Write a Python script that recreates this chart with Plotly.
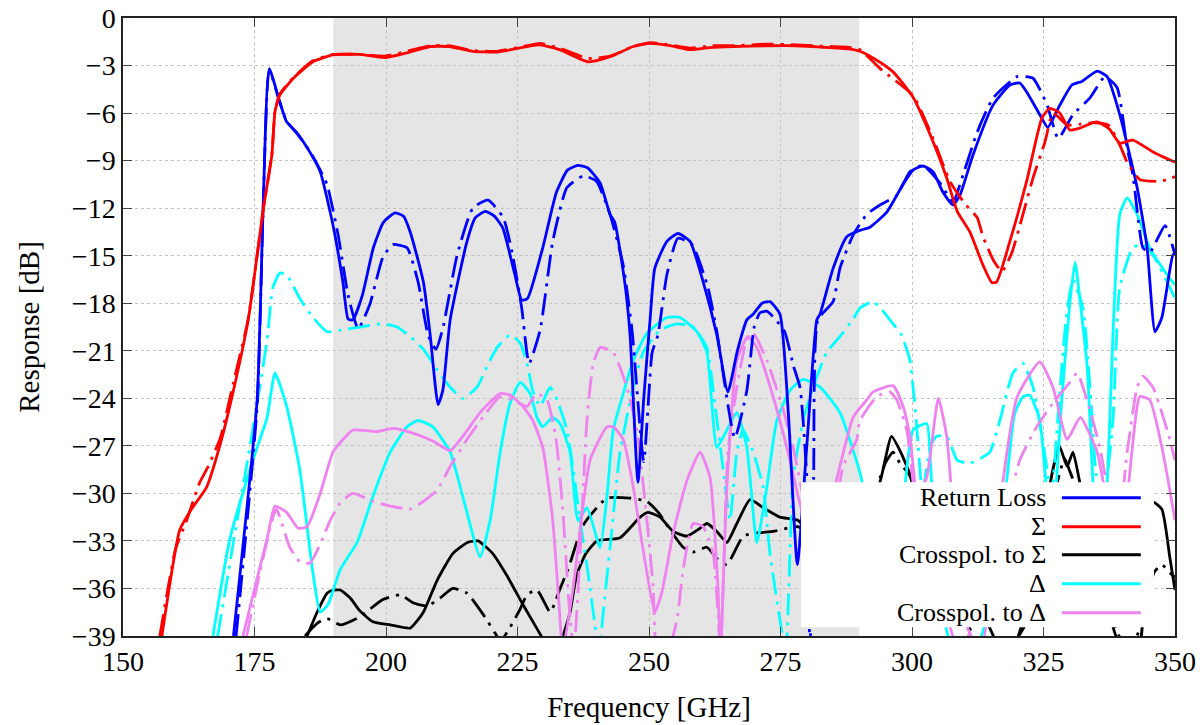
import plotly.graph_objects as go

# ---------------- data (frequency in GHz, response in dB) ----------------
rl_sim_f = [171.0, 175.5, 176.6, 177.8, 179.8, 181.1, 183.1, 185.5, 187.5, 190.0, 191.8, 192.8, 193.7, 195.5, 197.6, 199.5, 201.7, 203.3, 204.6, 207.1, 208.4, 209.9, 210.8, 212.2, 215.4, 217.0, 218.9, 220.6, 222.2, 224.5, 225.8, 226.9, 229.8, 232.4, 234.5, 236.5, 238.3, 240.7, 242.6, 243.5, 245.4, 246.4, 247.9, 249.0, 250.2, 251.1, 253.4, 255.5, 257.8, 260.3, 262.9, 265.0, 266.8, 268.6, 269.8, 271.5, 273.0, 274.9, 276.5, 278.2, 280.0, 281.9, 282.5, 285.0, 287.6, 290.1, 292.0, 295.2, 298.3, 300.2, 302.1, 304.0, 305.9, 307.8, 309.1, 311.6, 315.4, 318.6, 320.5, 321.8, 324.3, 325.8, 328.1, 330.4, 332.3, 335.2, 337.1, 339.5, 342.8, 344.7, 346.2, 347.5, 349.6, 350.0]
rl_sim_db = [-39, -24.1, -12.4, -3.2, -5.3, -6.55, -7.26, -8.45, -9.7, -13.2, -16.65, -19.0, -19.05, -17.5, -14.5, -12.9, -12.3, -12.5, -13.5, -16.65, -20.0, -24.4, -23.5, -19.05, -14.1, -12.6, -12.2, -12.5, -13.25, -16.2, -17.8, -17.7, -14.5, -11.0, -9.6, -9.3, -9.45, -10.4, -12.4, -12.9, -16.7, -20.0, -29.3, -24.0, -19.05, -15.8, -14.1, -13.6, -14.1, -16.65, -20.0, -23.6, -21.0, -19.05, -18.7, -18.0, -17.9, -18.7, -25.0, -34.5, -27.0, -19.05, -18.7, -15.8, -13.8, -13.4, -13.2, -12.25, -10.5, -9.6, -9.34, -9.7, -11.0, -11.8, -11.2, -8.64, -5.5, -4.23, -4.1, -4.67, -6.1, -6.9, -5.5, -4.23, -4.0, -3.35, -3.7, -6.1, -10.7, -14.5, -19.8, -18.9, -14.95, -14.9]

rl_meas_f = [171.5, 175.5, 176.6, 177.8, 179.8, 181.1, 183.1, 185.5, 187.5, 188.8, 190.9, 192.8, 194.7, 196.9, 199.4, 201.3, 204.0, 206.1, 208.0, 209.5, 210.8, 213.5, 216.5, 219.4, 222.3, 224.1, 225.8, 227.2, 229.3, 231.7, 234.4, 237.5, 240.0, 242.6, 245.1, 246.8, 249.0, 250.6, 251.7, 253.4, 255.5, 258.2, 261.2, 262.9, 266.3, 268.6, 270.0, 271.1, 272.4, 274.0, 275.8, 277.5, 278.7, 280.0, 280.6, 281.3, 282.1, 285.0, 286.3, 288.8, 291.4, 293.9, 297.1, 299.6, 302.1, 305.3, 307.8, 309.7, 312.4, 315.4, 320.0, 323.0, 325.7, 327.8, 330.6, 333.8, 336.7, 339.0, 340.9, 342.0, 343.9, 345.2, 348.1, 350.0]
rl_meas_db = [-39, -24.5, -12.6, -3.3, -5.3, -6.5, -7.3, -8.4, -9.6, -10.5, -13.7, -17.5, -19.6, -18.1, -15.1, -14.3, -14.5, -16.65, -20.0, -20.9, -19.6, -15.0, -12.0, -11.5, -12.6, -15.0, -18.3, -21.8, -19.7, -14.1, -10.7, -9.97, -10.3, -12.4, -15.6, -19.8, -28.0, -21.1, -20.0, -16.2, -13.9, -14.3, -17.0, -19.8, -26.5, -23.5, -19.5, -18.6, -18.5, -19.0, -19.8, -22.0, -23.3, -29.0, -40.0, -29.0, -19.05, -17.9, -15.8, -13.7, -12.4, -11.8, -11.2, -9.7, -9.3, -10.4, -11.6, -9.9, -7.2, -5.06, -3.7, -3.8, -5.5, -7.6, -6.1, -5.06, -3.7, -4.4, -8.2, -9.9, -14.5, -14.8, -13.1, -14.95]

sum_sim_f = [157.4, 160.8, 163.0, 165.9, 168.4, 171.0, 173.8, 176.7, 178.3, 178.9, 179.8, 182.4, 186.1, 189.9, 191.3, 195.0, 199.8, 204.0, 208.4, 212.0, 216.5, 221.1, 226.8, 229.3, 233.0, 238.4, 242.6, 247.0, 250.2, 254.0, 257.8, 262.0, 266.0, 272.4, 278.0, 284.4, 288.0, 290.1, 293.0, 296.4, 300.2, 304.0, 306.6, 308.6, 311.0, 313.5, 315.2, 316.1, 318.6, 321.8, 324.7, 326.2, 328.1, 330.0, 331.9, 335.1, 337.5, 339.5, 342.0, 345.8, 350.0]
sum_sim_db = [-39, -32.3, -31.0, -29.6, -27.0, -23.5, -19.05, -12.0, -8.64, -5.9, -4.86, -3.8, -2.76, -2.33, -2.3, -2.3, -2.5, -2.2, -1.8, -1.8, -2.1, -2.15, -1.8, -1.7, -2.0, -2.76, -2.44, -1.8, -1.6, -1.75, -2.0, -1.85, -1.8, -1.75, -1.75, -1.87, -1.95, -2.1, -2.6, -3.4, -5.0, -7.8, -10.1, -12.2, -13.5, -15.6, -16.7, -16.65, -14.1, -10.3, -6.3, -5.7, -6.0, -7.07, -6.95, -6.56, -7.0, -7.9, -7.7, -8.45, -9.1]

sum_meas_f = [157.0, 160.0, 162.0, 164.6, 166.2, 168.5, 171.0, 173.8, 176.7, 178.3, 178.9, 179.8, 182.4, 186.1, 189.9, 195.0, 199.8, 204.0, 208.4, 212.0, 216.5, 221.1, 226.8, 229.3, 233.0, 238.4, 242.6, 247.0, 250.2, 254.0, 257.8, 262.0, 266.0, 272.4, 278.0, 284.4, 288.0, 290.1, 294.3, 300.2, 304.0, 307.2, 310.0, 312.4, 313.5, 315.5, 317.1, 319.0, 321.0, 323.0, 325.3, 326.8, 329.5, 332.0, 334.4, 337.3, 339.5, 340.9, 343.3, 347.1, 349.4, 350.0]
sum_meas_db = [-39, -33.5, -31.8, -29.3, -28.3, -26.5, -23.0, -19.0, -12.0, -8.6, -5.9, -4.8, -3.75, -2.7, -2.3, -2.3, -2.4, -2.1, -1.75, -1.75, -2.05, -2.1, -1.75, -1.6, -1.9, -2.55, -2.4, -1.8, -1.55, -1.7, -1.9, -1.75, -1.75, -1.65, -1.7, -1.8, -1.85, -2.0, -3.3, -4.9, -7.6, -10.3, -11.7, -12.6, -13.8, -15.3, -16.0, -14.8, -12.5, -10.1, -7.8, -6.0, -6.75, -6.7, -6.6, -6.75, -8.0, -9.1, -10.2, -10.3, -10.1, -10.0]

xs_sim_f = [185.0, 186.9, 188.8, 189.9, 191.3, 193.2, 195.0, 197.5, 200.8, 204.6, 207.1, 209.7, 212.7, 215.5, 217.5, 220.3, 223.0, 226.0, 229.5, 231.0, 233.0, 235.0, 236.2, 238.0, 240.1, 244.5, 248.3, 249.8, 252.1, 254.6, 257.2, 259.7, 261.0, 262.9, 264.8, 266.7, 269.2, 271.7, 274.9, 278.3, 282.0, 286.0, 290.0, 293.9, 296.1, 298.0, 300.2, 303.0, 306.0, 310.0, 314.0, 317.0, 319.0, 322.0, 324.5, 326.2, 328.0, 329.5, 330.6, 332.0, 334.0, 337.0, 340.0, 343.0, 345.5, 347.5, 349.0, 350.0]
xs_sim_db = [-39, -37.5, -36.3, -36.1, -36.1, -36.6, -37.4, -38.1, -38.3, -38.5, -37.5, -35.5, -33.8, -33.1, -33.0, -33.8, -35.2, -37.0, -39.0, -40.0, -39.5, -37.5, -35.2, -33.8, -33.0, -32.8, -31.5, -31.2, -31.5, -32.4, -32.7, -32.2, -31.9, -32.4, -33.1, -31.9, -30.4, -30.9, -31.5, -31.7, -33.0, -34.0, -32.0, -29.3, -26.4, -27.5, -29.3, -33.0, -36.0, -37.0, -38.0, -40.0, -40.0, -37.0, -34.0, -29.5, -27.0, -28.3, -27.4, -29.5, -33.0, -37.0, -40.0, -40.0, -30.5, -31.0, -34.0, -36.1]

xs_meas_f = [184.6, 186.9, 188.8, 191.3, 195.0, 199.4, 202.7, 205.1, 207.8, 210.3, 212.7, 215.4, 218.8, 220.7, 221.8, 223.5, 225.5, 226.8, 228.7, 231.2, 232.0, 233.1, 234.6, 237.5, 242.0, 246.4, 249.6, 252.0, 254.0, 256.5, 258.4, 261.0, 262.9, 264.8, 267.9, 270.5, 273.6, 278.3, 282.0, 287.0, 292.0, 294.9, 296.4, 297.7, 299.6, 302.0, 306.0, 310.0, 314.0, 318.0, 322.0, 326.0, 327.5, 329.0, 330.0, 331.0, 333.0, 337.0, 341.0, 344.0, 346.0, 347.5, 349.0, 350.0]
xs_meas_db = [-39, -38.2, -37.9, -38.3, -37.8, -36.7, -36.4, -36.9, -37.1, -36.6, -36.0, -36.3, -37.8, -38.8, -39.3, -38.5, -37.3, -36.4, -36.1, -37.5, -37.0, -36.0, -34.8, -32.0, -30.3, -30.3, -30.5, -31.3, -32.3, -33.4, -33.7, -33.4, -34.1, -34.5, -32.7, -32.5, -32.4, -32.1, -33.0, -34.0, -31.0, -28.1, -27.4, -28.1, -28.9, -32.0, -36.0, -38.0, -40.0, -40.0, -38.0, -33.0, -29.5, -27.8, -28.6, -29.5, -33.0, -37.0, -40.0, -38.0, -35.0, -34.5, -35.0, -35.3]

delta_sim_f = [167.1, 170.3, 174.7, 177.4, 178.9, 181.1, 183.6, 186.1, 187.5, 189.0, 191.3, 194.5, 197.5, 200.8, 204.0, 206.1, 208.9, 212.2, 214.6, 217.9, 219.8, 221.7, 223.6, 225.5, 227.4, 228.7, 229.8, 231.7, 233.1, 235.0, 236.5, 238.2, 240.7, 242.0, 243.2, 245.1, 247.0, 249.6, 253.4, 255.9, 259.1, 261.0, 262.9, 264.8, 266.7, 268.6, 270.5, 272.4, 274.3, 276.8, 279.3, 282.5, 286.3, 290.1, 293.0, 296.0, 298.5, 300.2, 302.8, 303.5, 305.0, 308.0, 312.0, 316.0, 318.0, 319.5, 321.1, 322.4, 324.3, 326.5, 328.5, 330.0, 331.0, 332.0, 333.3, 334.4, 336.0, 337.3, 338.2, 339.5, 340.9, 342.8, 345.2, 348.5, 350.0]
delta_sim_db = [-39, -32.9, -27.9, -25.2, -22.4, -24.5, -28.5, -35.0, -37.5, -37.0, -34.8, -33.1, -30.2, -27.4, -25.8, -25.4, -25.8, -27.4, -30.2, -34.0, -31.7, -27.4, -24.3, -23.0, -23.7, -25.2, -25.8, -25.2, -25.6, -27.4, -31.7, -30.9, -33.4, -30.2, -26.0, -23.7, -21.6, -19.9, -18.9, -18.9, -19.8, -21.1, -27.1, -26.0, -24.9, -27.1, -33.1, -29.6, -25.4, -23.5, -22.8, -23.3, -24.9, -28.7, -33.0, -36.0, -30.0, -26.0, -25.6, -28.0, -36.0, -40.0, -40.0, -35.0, -29.2, -25.0, -23.9, -23.8, -25.4, -33.0, -24.0, -18.0, -15.4, -18.0, -22.0, -29.2, -35.0, -28.0, -20.0, -12.4, -11.35, -12.4, -14.5, -16.2, -16.85]

delta_meas_f = [168.0, 171.7, 174.1, 176.0, 177.4, 178.5, 179.8, 181.1, 183.6, 186.1, 188.8, 191.3, 195.1, 199.4, 202.1, 204.6, 207.1, 209.7, 212.2, 214.6, 217.3, 219.2, 221.1, 223.6, 225.5, 226.8, 227.9, 229.3, 231.2, 232.5, 234.4, 235.6, 236.9, 238.4, 239.4, 240.5, 241.3, 242.6, 244.5, 247.0, 248.9, 252.1, 255.3, 258.4, 261.0, 262.5, 264.1, 265.4, 266.7, 267.9, 269.8, 271.7, 273.0, 274.9, 276.0, 277.4, 279.3, 281.2, 283.8, 286.3, 288.8, 290.1, 292.6, 294.0, 296.4, 298.0, 299.6, 300.2, 300.9, 302.0, 303.5, 304.7, 306.6, 308.6, 311.0, 313.5, 314.8, 316.7, 319.2, 321.1, 323.0, 325.0, 326.5, 328.0, 329.3, 330.6, 332.5, 334.0, 335.2, 336.5, 338.2, 339.5, 342.0, 343.9, 345.8, 348.5, 350.0]
delta_meas_db = [-39, -31.7, -27.1, -23.3, -20.3, -17.0, -16.1, -16.2, -17.7, -18.9, -19.8, -19.7, -19.5, -19.3, -19.5, -20.1, -20.9, -22.2, -23.3, -24.0, -23.3, -22.0, -20.8, -20.0, -20.5, -21.8, -23.5, -24.5, -23.3, -24.1, -26.0, -28.5, -31.7, -35.0, -37.5, -40.0, -37.5, -33.4, -27.4, -23.3, -21.1, -19.7, -19.3, -19.5, -20.8, -24.3, -28.5, -31.7, -27.4, -26.0, -27.4, -29.6, -33.8, -38.0, -40.0, -29.0, -25.4, -23.3, -21.1, -20.1, -19.0, -18.3, -17.9, -18.3, -19.3, -20.0, -21.6, -23.3, -25.8, -30.0, -27.0, -26.4, -26.4, -27.9, -28.1, -27.7, -27.4, -25.4, -22.4, -21.8, -23.3, -27.0, -30.0, -24.0, -19.0, -16.5, -18.3, -24.0, -29.2, -30.0, -25.4, -17.0, -14.5, -14.3, -14.95, -16.65, -17.7]

xd_sim_f = [172.8, 175.4, 177.5, 178.9, 181.1, 183.3, 185.0, 187.5, 189.9, 191.3, 193.7, 198.3, 201.3, 205.1, 208.9, 212.2, 214.6, 217.9, 221.7, 223.6, 226.0, 227.9, 229.8, 231.7, 233.1, 233.6, 235.6, 238.8, 242.0, 243.2, 245.1, 247.0, 249.0, 251.1, 252.4, 254.6, 257.2, 259.7, 261.6, 263.1, 263.6, 264.8, 266.7, 268.8, 270.5, 273.6, 276.8, 279.0, 282.0, 285.0, 288.8, 291.4, 292.6, 296.4, 298.3, 299.6, 301.0, 302.8, 305.0, 306.6, 308.0, 310.0, 313.0, 315.5, 317.3, 320.0, 324.3, 326.8, 329.5, 332.0, 335.2, 337.5, 340.0, 343.3, 345.2, 347.7, 350.0]
xd_sim_db = [-39, -35.5, -32.7, -30.8, -31.2, -32.2, -32.1, -30.0, -27.4, -26.8, -26.0, -26.1, -25.9, -26.2, -26.7, -27.3, -26.4, -24.9, -23.7, -23.8, -24.5, -25.4, -27.1, -31.7, -38.0, -40.0, -35.9, -27.9, -25.8, -25.8, -26.6, -29.6, -33.8, -37.5, -36.3, -32.5, -29.2, -27.4, -29.0, -35.9, -40.0, -29.6, -21.6, -20.1, -20.8, -23.9, -27.9, -31.0, -33.0, -30.0, -25.2, -24.1, -23.6, -23.2, -24.5, -26.4, -30.0, -29.0, -24.0, -26.4, -32.0, -38.0, -40.0, -35.0, -29.2, -23.9, -21.7, -23.3, -26.6, -25.2, -27.4, -31.0, -32.0, -23.9, -24.1, -27.4, -31.7]

xd_meas_f = [173.5, 176.0, 178.5, 179.2, 181.7, 183.6, 185.5, 187.5, 189.4, 191.3, 193.7, 197.5, 200.8, 204.6, 207.1, 209.7, 212.2, 215.4, 218.4, 221.7, 224.1, 226.8, 228.7, 230.6, 232.3, 233.6, 234.8, 235.7, 236.9, 238.2, 239.4, 240.7, 243.2, 245.8, 247.7, 249.6, 250.8, 251.6, 253.5, 255.3, 256.5, 258.4, 260.3, 262.2, 263.0, 263.6, 265.0, 266.7, 268.6, 269.8, 272.4, 275.5, 277.4, 280.0, 284.0, 286.9, 289.5, 290.1, 293.3, 295.8, 297.1, 299.0, 300.5, 303.0, 306.0, 309.0, 312.0, 315.0, 318.0, 320.5, 323.7, 326.8, 330.0, 331.4, 333.8, 335.7, 337.5, 339.5, 340.9, 342.8, 343.9, 345.8, 348.5, 350.0]
xd_meas_db = [-39, -35.0, -31.5, -31.0, -33.4, -34.3, -34.4, -33.2, -31.7, -30.6, -30.0, -30.5, -30.8, -31.0, -30.5, -29.8, -28.3, -26.6, -25.2, -23.9, -24.1, -24.5, -23.7, -24.1, -26.5, -31.0, -37.0, -40.0, -33.8, -25.4, -21.8, -20.8, -21.1, -23.3, -26.0, -31.7, -35.9, -40.0, -40.0, -38.0, -34.8, -31.9, -32.1, -33.8, -37.0, -40.0, -27.4, -23.3, -20.3, -19.9, -21.6, -24.7, -27.1, -31.0, -33.0, -28.3, -26.6, -25.4, -23.9, -23.6, -24.1, -26.0, -30.0, -33.0, -37.0, -40.0, -38.0, -34.0, -31.0, -27.9, -25.8, -24.3, -23.0, -22.4, -24.7, -27.1, -30.0, -31.0, -27.4, -23.3, -22.6, -23.3, -26.0, -27.9]

legend_labels = ["Return Loss", "Σ", "Crosspol. to Σ", "Δ", "Crosspol. to Δ"]
legend_colors = ["#0000ff", "#ff0000", "#000000", "#00ffff", "#ee82ee"]

x_ticks = [150, 175, 200, 225, 250, 275, 300, 325, 350]
y_ticks = [0, -3, -6, -9, -12, -15, -18, -21, -24, -27, -30, -33, -36, -39]

# ---------------- figure ----------------
FONT = "Liberation Serif"
DASHDOT = "22px,7px,3px,7px"
LW = 2.8

series = [
    (xs_sim_f, xs_sim_db, xs_meas_f, xs_meas_db, "#000000"),
    (delta_sim_f, delta_sim_db, delta_meas_f, delta_meas_db, "#00ffff"),
    (xd_sim_f, xd_sim_db, xd_meas_f, xd_meas_db, "#ee82ee"),
    (rl_sim_f, rl_sim_db, rl_meas_f, rl_meas_db, "#0000ff"),
    (sum_sim_f, sum_sim_db, sum_meas_f, sum_meas_db, "#ff0000"),
]

fig = go.Figure()
for sf, sd, mf, md, col in series:
    fig.add_trace(go.Scatter(x=mf, y=md, mode="lines", showlegend=False,
                             line=dict(color=col, width=LW, dash=DASHDOT, shape="spline", smoothing=0.5),
                             hoverinfo="skip"))
    fig.add_trace(go.Scatter(x=sf, y=sd, mode="lines", showlegend=False,
                             line=dict(color=col, width=LW, shape="spline", smoothing=0.5),
                             hoverinfo="skip"))

shapes = [
    dict(type="rect", xref="x", yref="y", x0=190, x1=290, y0=-39, y1=0,
         fillcolor="#e5e5e5", line=dict(width=0), layer="below"),
    dict(type="rect", xref="x", yref="y", x0=278.9, x1=346.0, y0=-38.45, y1=-29.3,
         fillcolor="white", line=dict(width=0), layer="above"),
]
annotations = []
row_y = [-30.28, -32.11, -33.88, -35.71, -37.54]
for lab, col, yy in zip(legend_labels, legend_colors, row_y):
    shapes.append(dict(type="line", xref="x", yref="y", x0=328.5, x1=343.5, y0=yy, y1=yy,
                       line=dict(color=col, width=3), layer="above"))
    annotations.append(dict(x=325.6, y=yy, xref="x", yref="y", text=lab, showarrow=False,
                            xanchor="right", yanchor="middle", borderpad=0,
                            font=dict(family=FONT, size=26, color="black")))

axis_common = dict(
    showline=True, linecolor="#222222", linewidth=1.5, mirror="ticks",
    ticks="inside", ticklen=9, tickwidth=1, tickcolor="#444444",
    showgrid=True, gridcolor="#c4c4c4", griddash="dot", gridwidth=1,
    zeroline=False, automargin=False,
    tickfont=dict(family=FONT, size=28, color="black"),
)

fig.update_layout(
    width=1203, height=725,
    margin=dict(l=123, r=28, t=18, b=89),
    paper_bgcolor="white", plot_bgcolor="white",
    shapes=shapes, annotations=annotations,
    xaxis=dict(range=[150, 350], tickvals=x_ticks, ticktext=[str(v) for v in x_ticks],
               title=dict(text="Frequency [GHz]", font=dict(family=FONT, size=29, color="black"), standoff=20),
               **axis_common),
    yaxis=dict(range=[-39, 0], tickvals=y_ticks, ticktext=[("−" + str(-v)) if v < 0 else "0" for v in y_ticks],
               title=dict(text="Response [dB]", font=dict(family=FONT, size=29, color="black"), standoff=24),
               **axis_common),
)

fig.write_html("out.html")
